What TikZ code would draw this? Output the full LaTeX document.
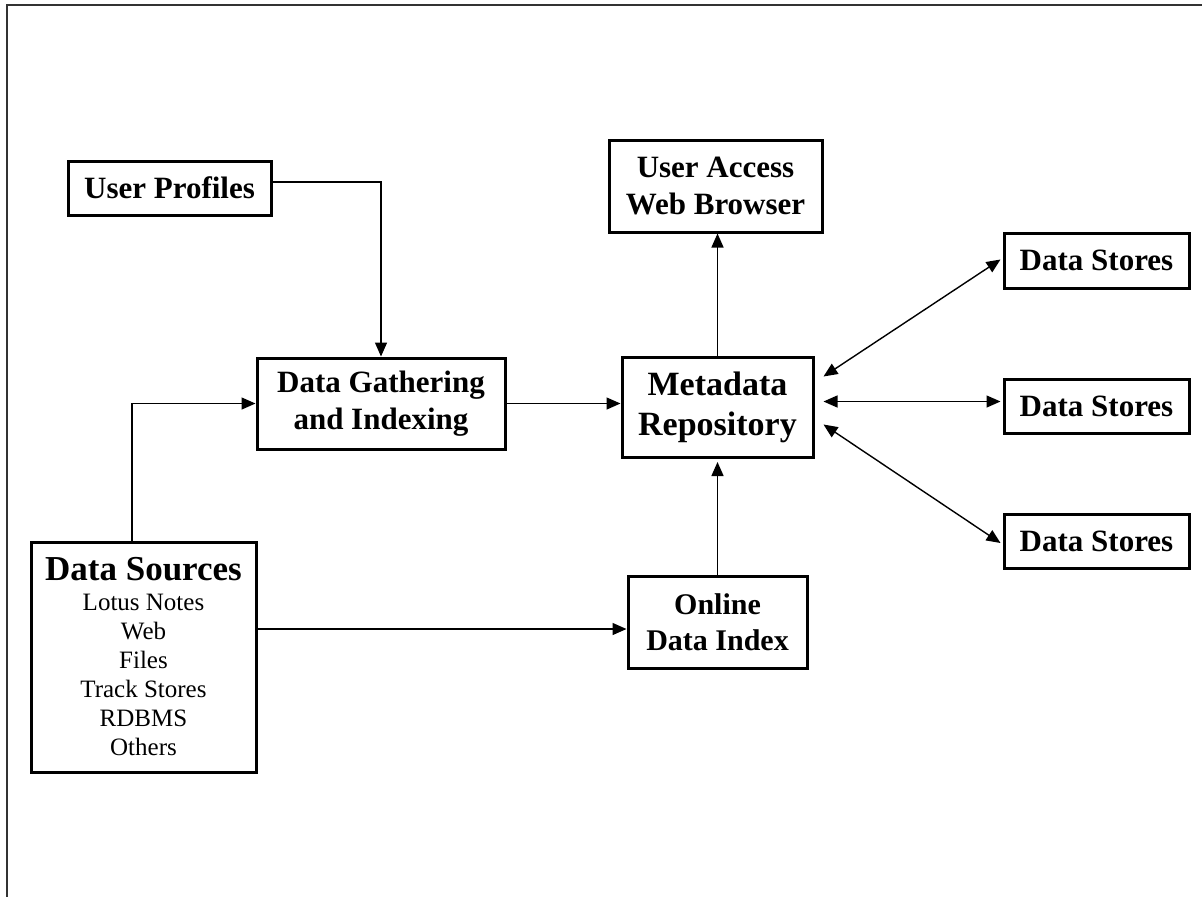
\documentclass[tikz,border=0pt]{standalone}
\usepackage{fontspec}
\setmainfont{Liberation Serif}
\usetikzlibrary{arrows.meta,calc}
\begin{document}
\begin{tikzpicture}[x=1pt,y=-1pt,
  box/.style={draw, line width=3pt, align=center, inner sep=0pt, font=\bfseries},
  conn/.style={line width=1.4pt},
  arr/.style={conn, -{Triangle[length=14pt,width=12pt]}},
  darr/.style={conn, {Triangle[length=14pt,width=12pt]}-{Triangle[length=14pt,width=12pt]}},
  lab/.style={font=\fontsize{31}{37}\selectfont\bfseries}
]
\useasboundingbox (0,0) rectangle (1202,897);
% frame
\draw[line width=2pt, black!80] (1202,5) -- (7,5) -- (7,897);

\node[box, minimum width=203pt, minimum height=54pt, lab] (up) at (169.5,188) {User Profiles};
\node[box, minimum width=248pt, minimum height=91pt, lab] (dg) at (381,403.5) {Data Gathering\\and Indexing};
\node[box, minimum width=213pt, minimum height=92pt, lab] (ua) at (715.5,186) {User Access\\Web Browser};
\node[box, minimum width=191pt, minimum height=100pt, font=\fontsize{34}{40}\selectfont\bfseries] (mr) at (717.5,407.5) {Metadata\\Repository};
\node[box, minimum width=179pt, minimum height=92pt, font=\fontsize{30}{36}\selectfont\bfseries] (odi) at (717.5,622) {Online\\Data Index};
\node[box, minimum width=225pt, minimum height=230pt, font=\fontsize{25}{29}\selectfont] (ds) at (143.5,657)
  {{\fontsize{35}{36}\selectfont\bfseries Data Sources}\\[1pt]Lotus Notes\\Web\\Files\\Track Stores\\RDBMS\\Others};
\node[box, minimum width=185pt, minimum height=55pt, lab] (st1) at (1096.5,260.5) {Data Stores};
\node[box, minimum width=185pt, minimum height=54pt, lab] (st2) at (1096.5,406) {Data Stores};
\node[box, minimum width=185pt, minimum height=54pt, lab] (st3) at (1096.5,541) {Data Stores};

% connectors
\draw[arr] ([yshift=6pt]up.east) -| (dg.north);
\draw[arr] ([xshift=-11.5pt]ds.north) |- (dg.west);
\draw[arr] (dg.east) -- (dg.east -| mr.west);
\draw[arr] (mr.north) -- (mr.north |- ua.south);
\draw[arr, shorten >=3pt] (odi.north) -- (odi.north |- mr.south);
\coordinate (odiin) at ([yshift=-7pt]odi.west);
\draw[arr] (odiin -| ds.east) -- (odiin);
\coordinate (m1) at ([xshift=9pt,yshift=31pt]mr.east);
\coordinate (m2) at ([xshift=9pt,yshift=6pt]mr.east);
\coordinate (m3) at ([xshift=9pt,yshift=-17pt]mr.east);
\draw[darr] (m1) -- ([xshift=-2pt,yshift=1pt]st1.west);
\draw[darr] (m2) -- ([xshift=-2pt]st2.west |- m2);
\draw[darr] (m3) -- ([xshift=-2pt,yshift=-2pt]st3.west);
\end{tikzpicture}
\end{document}
